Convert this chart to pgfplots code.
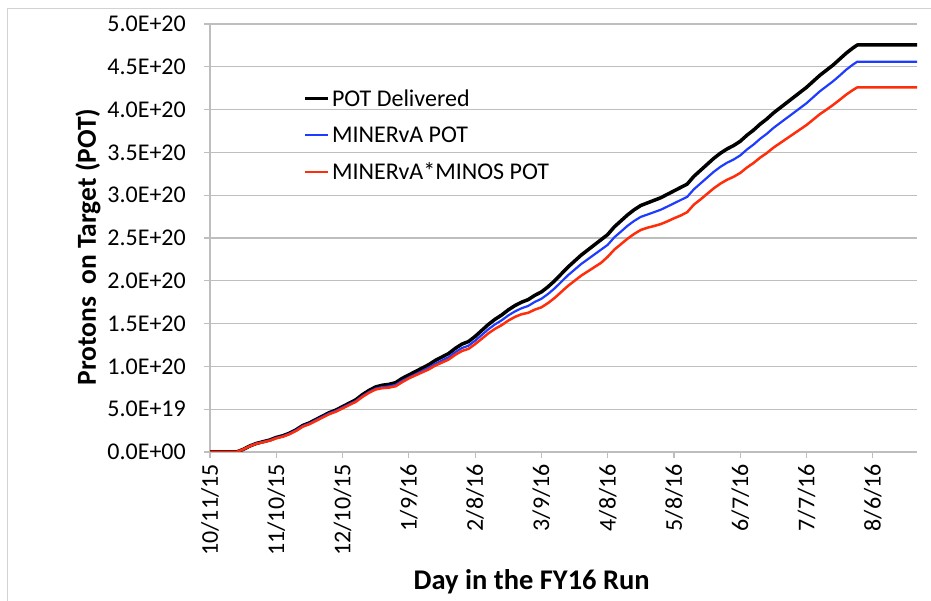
\documentclass[border=0pt]{standalone}
\usepackage{fontspec}
\setmainfont{Carlito}
\usepackage{pgfplots}
\usepackage{pgfplotstable}
\pgfplotsset{compat=1.18}
\definecolor{potblue}{RGB}{30,60,255}
\definecolor{potred}{RGB}{255,45,10}
\definecolor{gridgray}{RGB}{190,190,190}
\definecolor{framegray}{RGB}{210,210,210}

% values in units of 1E19 POT; day counted from 10/11/15
\pgfplotstableread{
day  pot    minerva  minos
0    0      0        0
12   0      0        0
15   0.3    0.3      0.3
18   0.7    0.7      0.68
21   1.0    1.0      0.96
24   1.2    1.17     1.14
27   1.4    1.36     1.32
30   1.7    1.65     1.6
33   1.9    1.85     1.79
36   2.2    2.15     2.08
39   2.6    2.55     2.47
42   3.1    3.04     2.96
45   3.4    3.34     3.25
48   3.8    3.73     3.64
51   4.2    4.13     4.03
54   4.6    4.52     4.42
57   4.9    4.81     4.71
60   5.3    5.2      5.1
63   5.7    5.58     5.48
66   6.1    5.96     5.86
69   6.7    6.54     6.44
72   7.2    7.02     6.92
75   7.6    7.4      7.3
78   7.8    7.58     7.46
81   7.9    7.66     7.52
84   8.1    7.84     7.68
87   8.6    8.32     8.16
90   9.0    8.7      8.6
93   9.4    9.08     8.95
96   9.8    9.46     9.3
99   10.2   9.84     9.65
102  10.7   10.32    10.1
105  11.1   10.7     10.45
108  11.5   11.08    10.8
111  12.1   11.66    11.35
114  12.6   12.14    11.8
117  12.9   12.42    12.05
120  13.5   13.0     12.6
123  14.2   13.67    13.23
126  14.9   14.34    13.86
129  15.5   14.91    14.39
132  16.0   15.38    14.82
135  16.6   15.95    15.35
138  17.1   16.42    15.78
141  17.5   16.79    16.09
144  17.8   17.06    16.26
147  18.3   17.53    16.63
150  18.7   17.9     16.9
153  19.3   18.46    17.4
156  20.0   19.12    18.0
159  20.8   19.88    18.7
162  21.6   20.64    19.4
165  22.3   21.3     20.0
168  23.0   21.96    20.6
171  23.6   22.52    21.1
174  24.2   23.08    21.6
177  24.8   23.64    22.1
180  25.4   24.2     22.8
183  26.3   25.08    23.64
186  27.0   25.75    24.28
189  27.7   26.43    24.92
192  28.3   27.0     25.48
195  28.8   27.47    25.94
198  29.1   27.74    26.2
201  29.4   28.02    26.4
204  29.7   28.3     26.62
207  30.1   28.67    26.94
210  30.5   29.05    27.3
213  30.9   29.43    27.62
216  31.3   29.81    28.02
219  32.2   30.69    28.9
222  32.9   31.37    29.5
225  33.6   32.05    30.15
228  34.3   32.73    30.8
231  34.9   33.31    31.35
234  35.4   33.79    31.8
237  35.8   34.17    32.15
240  36.3   34.65    32.6
243  37.0   35.33    33.23
246  37.6   35.91    33.76
249  38.3   36.59    34.39
252  38.9   37.17    34.92
255  39.6   37.85    35.55
258  40.2   38.43    36.08
261  40.8   39.01    36.61
264  41.4   39.59    37.14
267  42.0   40.17    37.67
270  42.6   40.75    38.2
273  43.3   41.44    38.83
276  44.0   42.13    39.46
279  44.6   42.72    39.99
282  45.2   43.31    40.54
285  45.9   43.97    41.14
288  46.6   44.67    41.76
291  47.2   45.26    42.29
293  47.55  45.6     42.6
320  47.55  45.6     42.6
}\potdata

\begin{document}
\begin{tikzpicture}[x=1pt,y=1pt]
\useasboundingbox (0,0) rectangle (931,601);
\draw[framegray, line width=1pt] (7,-10) -- (7,592) -- (950,592);
\begin{axis}[
  at={(210pt,149pt)}, anchor=south west,
  scale only axis, width=707pt, height=428pt,
  xmin=0, xmax=320, ymin=0, ymax=50,
  axis lines*=left,
  axis line style={gridgray, line width=1.2pt, -},
  tick align=outside,
  major tick length=6pt,
  tick style={gridgray, line width=1.2pt},
  ymajorgrids,
  grid style={gridgray, line width=1.2pt},
  xtick={0,30,...,300},
  xticklabels={10/11/15,11/10/15,12/10/15,1/9/16,2/8/16,3/9/16,4/8/16,5/8/16,6/7/16,7/7/16,8/6/16},
  xticklabel style={rotate=90, anchor=east, font=\fontsize{24}{28}\selectfont, inner sep=2pt},
  xticklabel shift=4pt,
  ytick={0,5,...,50},
  yticklabels={0.0E+00,5.0E+19,1.0E+20,1.5E+20,2.0E+20,2.5E+20,3.0E+20,3.5E+20,4.0E+20,4.5E+20,5.0E+20},
  yticklabel style={font=\fontsize{24}{28}\selectfont, inner sep=2pt},
  yticklabel shift=16pt,
  ylabel={Protons\ \ on Target (POT)},
  ylabel style={font=\fontsize{27.5}{32}\selectfont\bfseries, at={(axis description cs:-0.1726,0.479)}, anchor=center, rotate=0},
  xlabel={Day in the FY16 Run},
  xlabel style={font=\fontsize{28.5}{34}\selectfont\bfseries, at={(axis description cs:0.455,-0.302)}, anchor=center},
  legend style={at={(axis description cs:0.132,0.852)}, anchor=north west, draw=none, fill=none,
    font=\fontsize{24}{28}\selectfont, row sep=15pt, inner sep=0pt},
  legend cell align=left,
  legend image code/.code={\draw[#1] (0pt,0pt) -- (23pt,0pt);},
  line join=round,
]
\addplot[black, line width=3.5pt] table[x=day, y=pot] {\potdata};
\addlegendentry{POT Delivered}
\addplot[potblue, line width=2.2pt] table[x=day, y=minerva] {\potdata};
\addlegendentry{MINERvA POT}
\addplot[potred, line width=2.5pt] table[x=day, y=minos] {\potdata};
\addlegendentry{MINERvA*MINOS POT}
\end{axis}
\end{tikzpicture}
\end{document}
